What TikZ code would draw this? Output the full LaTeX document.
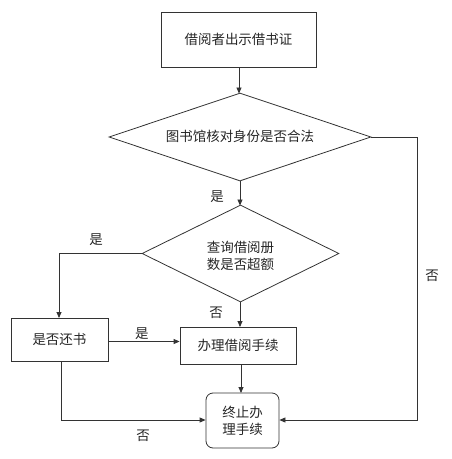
\documentclass[tikz,border=0pt]{standalone}
\usepackage{fontspec}
\newfontfamily\cjk{Noto Sans CJK SC}
\usetikzlibrary{shapes.geometric,arrows.meta}
\begin{document}
\begin{tikzpicture}[x=1pt,y=-1pt,
  every node/.style={font=\cjk\fontsize{13.5}{17}\selectfont, text=black!85},
  proc/.style={draw=black!80, line width=0.8pt, rectangle, inner sep=0pt},
  dec/.style={draw=black!80, line width=0.8pt, diamond, inner sep=0pt},
  conn/.style={draw=black!80, line width=0.8pt, -{Triangle[length=6pt,width=5pt]}},
  lbl/.style={inner sep=1pt}]
\useasboundingbox (0,0) rectangle (451,459);
\node[proc, minimum width=155pt, minimum height=55pt] (start) at (238.5,39.5) {借阅者出示借书证};
\node[dec, minimum width=262pt, minimum height=88pt, aspect=2.98] (d1) at (240,137) {};
\node at (240,136) {图书馆核对身份是否合法};
\node[dec, minimum width=197pt, minimum height=97pt, aspect=2.03] (d2) at (240.5,253.5) {};
\node[align=center] at (240.5,255.5) {查询借阅册\\数是否超额};
\node[proc, minimum width=97pt, minimum height=43pt] (ret) at (59.5,339.5) {是否还书};
\node[proc, minimum width=116pt, minimum height=37pt] (proc) at (238,345.5) {办理借阅手续};
\node[proc, rounded corners=7pt, minimum width=73pt, minimum height=55pt, align=center] (stop) at (242.5,420.5) {终止办\\理手续};
\coordinate (s1) at (start.south -| 239,0);
\draw[conn] (239,67) -- (239,93.5);
\draw[conn] (240,181) -- (240,205.5);
\node[lbl] at (217,197) {是};
\draw[conn] (d2.west) -| (59,318);
\node[lbl] at (96,240) {是};
\draw[conn] (240,302) -- (240,327);
\node[lbl] at (216,313) {否};
\draw[conn] (ret.east |- 0,341.5) -- (proc.west |- 0,341.5);
\node[lbl] at (142,334) {是};
\draw[conn] (241,364) -- (241,393);
\draw[conn] (61,361) |- (stop.west |- 0,420);
\node[lbl] at (143,436) {否};
\draw[conn] (d1.east) -| (417,420) -- (stop.east |- 0,420);
\node[lbl] at (432,276) {否};
\end{tikzpicture}
\end{document}
